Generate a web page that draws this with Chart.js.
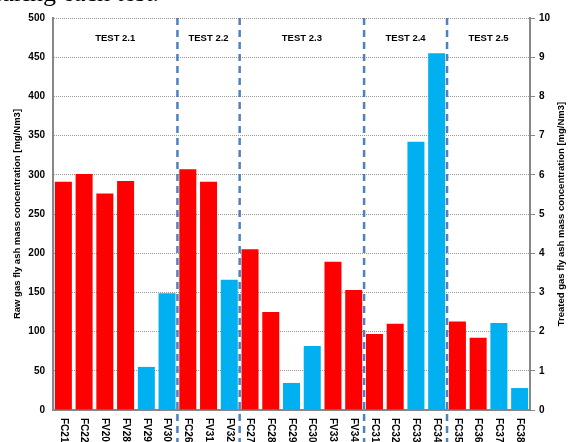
<!DOCTYPE html>
<html>
<head>
<meta charset="utf-8">
<script src="https://cdn.jsdelivr.net/npm/chart.js@4.4.1/dist/chart.umd.min.js"></script>
<style>
  html, body { margin: 0; padding: 0; background: #fff; }
  #wrap { width: 570px; height: 442px; position: relative; }
</style>
</head>
<body>
<div id="wrap"><canvas id="chart"></canvas></div>
<script>
// ── Data ──────────────────────────────────────────────────────────────────────
const LABELS = [
  "FC21", "FC22", "FV20", "FV28", "FV29", "FV30",
  "FC26", "FV31", "FV32",
  "FC27", "FC28", "FC29", "FC30", "FV33", "FV34",
  "FC31", "FC32", "FC33", "FC34",
  "FC35", "FC36", "FC37", "FC38",
];

// raw gas, left axis (mg/Nm3); null where the bar is a treated-gas one
const RAW_GAS = [
  291, 301, 276, 292, null, null,
  307, 291, null,
  205, 125, null, null, 189, 153,
  97, 110, null, null,
  113, 92, null, null,
];

// treated gas, right axis (mg/Nm3)
const TREATED_GAS = [
  null, null, null, null, 1.1, 2.98,
  null, null, 3.32,
  null, null, 0.69, 1.63, null, null,
  null, null, 6.84, 9.1,
  null, null, 2.22, 0.56,
];

// test groups: name + index of the last category in the group
const TESTS = ["TEST 2.1", "TEST 2.2", "TEST 2.3", "TEST 2.4", "TEST 2.5"];
const TEST_ENDS = [5, 8, 14, 18, 22];

const LEFT_TITLE = "Raw gas fly ash mass concentration [mg/Nm3]";
const RIGHT_TITLE = "Treated gas fly ash mass concentration [mg/Nm3]";

const RED = "#ff0000";
const BLUE = "#00b0f0";
const SEP_BLUE = "#4f81bd";
const FONT = "'Liberation Sans', Arial, sans-serif";

// ── Plugin: group separators, test names, rotated labels, axis titles ────────
const decorations = {
  id: "decorations",
  afterDraw(chart) {
    const { ctx, chartArea, scales } = chart;
    const x = scales.x;
    const midY = (chartArea.top + chartArea.bottom) / 2;
    ctx.save();

    // cropped sentence from the page the chart was cut out of
    ctx.fillStyle = "#000";
    ctx.font = "26px 'Liberation Serif', serif";
    ctx.textBaseline = "alphabetic";
    ctx.textAlign = "left";
    ctx.fillText("during each test.", -12, 1);

    // axis titles, both reading bottom to top
    ctx.font = "bold 9.5px " + FONT;
    ctx.textAlign = "center";
    ctx.textBaseline = "middle";
    [[17, LEFT_TITLE], [561, RIGHT_TITLE]].forEach(([tx, text]) => {
      ctx.save();
      ctx.translate(tx, midY);
      ctx.rotate(-Math.PI / 2);
      ctx.fillText(text, 0, 0);
      ctx.restore();
    });

    // x labels, reading top to bottom
    ctx.font = "bold 10px " + FONT;
    LABELS.forEach((lab, i) => {
      ctx.save();
      ctx.translate(x.getPixelForValue(i), chartArea.bottom + 8);
      ctx.rotate(Math.PI / 2);
      ctx.textAlign = "left";
      ctx.textBaseline = "middle";
      ctx.fillText(lab, 0, 0);
      ctx.restore();
    });

    // dashed separators + test names
    let start = 0;
    TEST_ENDS.forEach((end, g) => {
      const left = start === 0 ? chartArea.left
        : (x.getPixelForValue(start - 1) + x.getPixelForValue(start)) / 2;
      const right = end === LABELS.length - 1 ? chartArea.right
        : (x.getPixelForValue(end) + x.getPixelForValue(end + 1)) / 2;

      if (end !== LABELS.length - 1) {
        ctx.strokeStyle = SEP_BLUE;
        ctx.lineWidth = 2.5;
        ctx.setLineDash([7, 5]);
        ctx.beginPath();
        ctx.moveTo(right, chartArea.top);
        ctx.lineTo(right, chart.height);
        ctx.stroke();
        ctx.setLineDash([]);
      }

      ctx.fillStyle = "#000";
      ctx.font = "bold 9.5px " + FONT;
      ctx.textAlign = "center";
      ctx.textBaseline = "middle";
      ctx.fillText(TESTS[g], (left + right) / 2, chartArea.top + 20);
      start = end + 1;
    });

    ctx.restore();
  },
};

// ── Chart ────────────────────────────────────────────────────────────────────
new Chart(document.getElementById("chart"), {
  type: "bar",
  data: {
    labels: LABELS,
    datasets: [
      {
        label: "Raw gas",
        data: RAW_GAS,
        backgroundColor: RED,
        yAxisID: "y",
        grouped: false,
        categoryPercentage: 1,
        barPercentage: 0.82,
      },
      {
        label: "Treated gas",
        data: TREATED_GAS,
        backgroundColor: BLUE,
        yAxisID: "y1",
        grouped: false,
        categoryPercentage: 1,
        barPercentage: 0.82,
      },
    ],
  },
  options: {
    responsive: true,
    maintainAspectRatio: false,
    animation: false,
    layout: { padding: { top: 18, right: 0, left: 0, bottom: 0 } },
    plugins: {
      legend: { display: false },
      tooltip: { enabled: false },
    },
    scales: {
      x: {
        grid: { display: false, drawTicks: false },
        border: { color: "#888", width: 2 },
        ticks: { display: false },
        afterFit: s => { s.height = 32; },
      },
      y: {
        position: "left",
        min: 0,
        max: 500,
        ticks: {
          stepSize: 50,
          color: "#000",
          font: { family: FONT, size: 10, weight: "bold" },
          padding: 8,
        },
        grid: { color: "#999", drawTicks: false },
        // in v4 border.dash dashes the grid lines
        border: { color: "#888", width: 2, dash: [1, 1] },
        afterFit: s => { s.width = 53; },
      },
      y1: {
        position: "right",
        min: 0,
        max: 10,
        ticks: {
          stepSize: 1,
          color: "#000",
          font: { family: FONT, size: 10, weight: "bold" },
          padding: 4,
        },
        grid: { drawOnChartArea: false, drawTicks: true, tickLength: 5, color: "#888" },
        border: { color: "#888", width: 2 },
        afterFit: s => { s.width = 40; },
      },
    },
  },
  plugins: [decorations],
});
</script>
</body>
</html>
